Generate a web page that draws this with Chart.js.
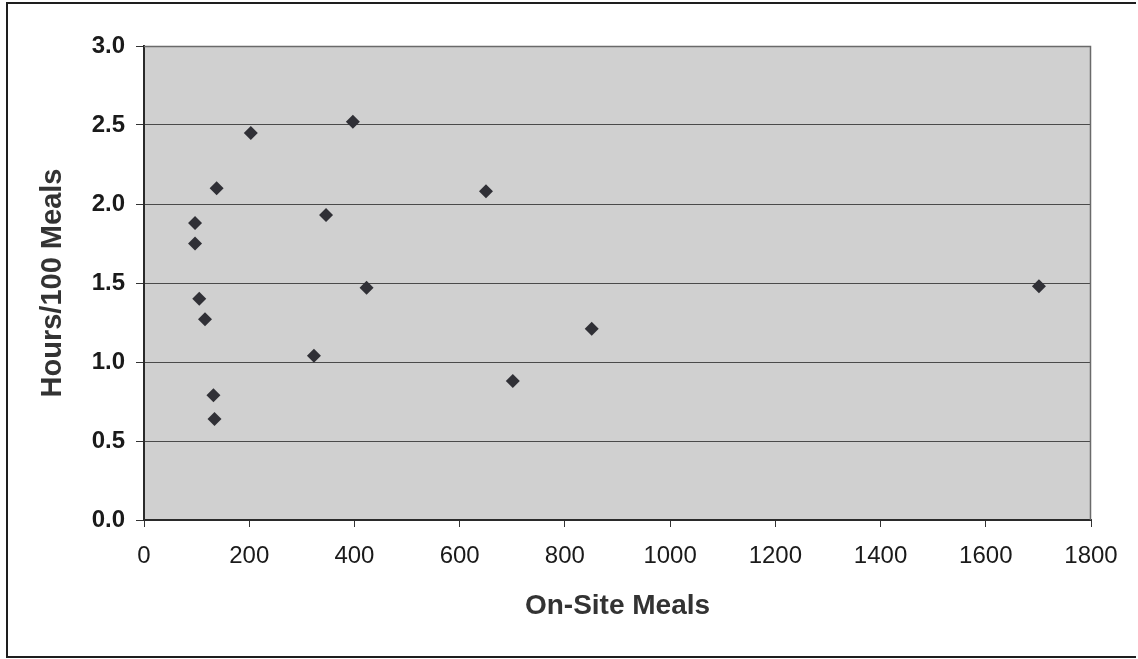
<!DOCTYPE html>
<html>
<head>
<meta charset="utf-8">
<script src="https://cdn.jsdelivr.net/npm/chart.js@4/dist/chart.umd.min.js"></script>
<style>
  html, body { margin: 0; padding: 0; background: #ffffff; }
  #wrap { width: 1138px; height: 659px; }
</style>
</head>
<body>
<div id="wrap"><canvas id="c" width="1138" height="659"></canvas></div>
<script>
// ---- Data ----
const onSiteMeals = [97, 97, 105, 116, 132, 134, 138, 203, 323, 346, 397, 423, 650, 701, 851, 1701];
const hoursPer100Meals = [1.88, 1.75, 1.40, 1.27, 0.79, 0.64, 2.10, 2.45, 1.04, 1.93, 2.52, 1.47, 2.08, 0.88, 1.21, 1.48];
const xTickValues = [0, 200, 400, 600, 800, 1000, 1200, 1400, 1600, 1800];
const yTickLabels = ['0.0', '0.5', '1.0', '1.5', '2.0', '2.5', '3.0'];
const xTitle = 'On-Site Meals';
const yTitle = 'Hours/100 Meals';

const points = onSiteMeals.map((x, i) => ({ x: x, y: hoursPer100Meals[i] }));

const plotBackground = {
  id: 'plotBackground',
  beforeDraw(chart) {
    const { ctx, chartArea: a } = chart;
    ctx.save();
    ctx.fillStyle = '#d0d0d0';
    ctx.fillRect(a.left, a.top, a.right - a.left, a.bottom - a.top);
    ctx.restore();
  },
  afterDraw(chart) {
    const { ctx, chartArea: a } = chart;
    ctx.save();
    // plot area border (top / right)
    ctx.strokeStyle = '#6a6a6a';
    ctx.lineWidth = 1.5;
    ctx.beginPath();
    ctx.moveTo(a.left, a.top + 0.5);
    ctx.lineTo(a.right - 0.5, a.top + 0.5);
    ctx.lineTo(a.right - 0.5, a.bottom);
    ctx.stroke();
    // outer frame
    ctx.strokeStyle = '#1e1e1e';
    ctx.lineWidth = 2;
    ctx.beginPath();
    ctx.moveTo(1136, 3);
    ctx.lineTo(7, 3);
    ctx.lineTo(7, 657);
    ctx.lineTo(1136, 657);
    ctx.stroke();
    ctx.restore();
  }
};

new Chart(document.getElementById('c'), {
  type: 'scatter',
  data: {
    datasets: [{
      label: yTitle,
      data: points,
      pointStyle: 'rectRot',
      pointRadius: 7,
      pointHoverRadius: 7,
      backgroundColor: '#303036',
      borderColor: '#303036',
      borderWidth: 0
    }]
  },
  options: {
    responsive: false,
    devicePixelRatio: 1,
    animation: false,
    layout: { padding: { left: 0, right: 47, top: 46, bottom: 0 } },
    plugins: {
      legend: { display: false },
      title: { display: false },
      tooltip: { enabled: false }
    },
    scales: {
      x: {
        type: 'linear',
        min: 0,
        max: 1800,
        afterFit(scale) { scale.height = 139; },
        afterBuildTicks(scale) { scale.ticks = xTickValues.map(v => ({ value: v })); },
        grid: {
          drawOnChartArea: false,
          drawTicks: true,
          tickLength: 7,
          tickColor: '#333333',
          tickWidth: 1
        },
        border: { display: true, color: '#2a2a2a', width: 2 },
        ticks: {
          padding: 15,
          color: '#1a1a1a',
          font: { family: 'Liberation Sans, Arial, sans-serif', size: 24, weight: 'normal' },
          maxRotation: 0,
          autoSkip: false,
          callback: (v) => String(v)
        },
        title: {
          display: true,
          text: xTitle,
          color: '#333333',
          font: { family: 'Liberation Sans, Arial, sans-serif', size: 28, weight: 'bold' },
          padding: { top: 0, bottom: 36 }
        }
      },
      y: {
        type: 'linear',
        min: 0,
        max: 3,
        afterFit(scale) { scale.width = 144; },
        afterBuildTicks(scale) { scale.ticks = yTickLabels.map(t => ({ value: parseFloat(t) })); },
        grid: {
          color: '#4a4a4a',
          lineWidth: 1,
          drawTicks: true,
          tickLength: 8,
          tickColor: '#333333'
        },
        border: { display: true, color: '#2a2a2a', width: 2 },
        ticks: {
          padding: 11,
          color: '#1a1a1a',
          font: { family: 'Liberation Sans, Arial, sans-serif', size: 24, weight: 'bold' },
          callback: (v) => yTickLabels.find(t => parseFloat(t) === v) || ''
        },
        title: {
          display: true,
          text: yTitle,
          color: '#333333',
          font: { family: 'Liberation Sans, Arial, sans-serif', size: 29, weight: 'bold' },
          padding: { top: 36, bottom: 0 }
        }
      }
    }
  },
  plugins: [plotBackground]
});
</script>
</body>
</html>
